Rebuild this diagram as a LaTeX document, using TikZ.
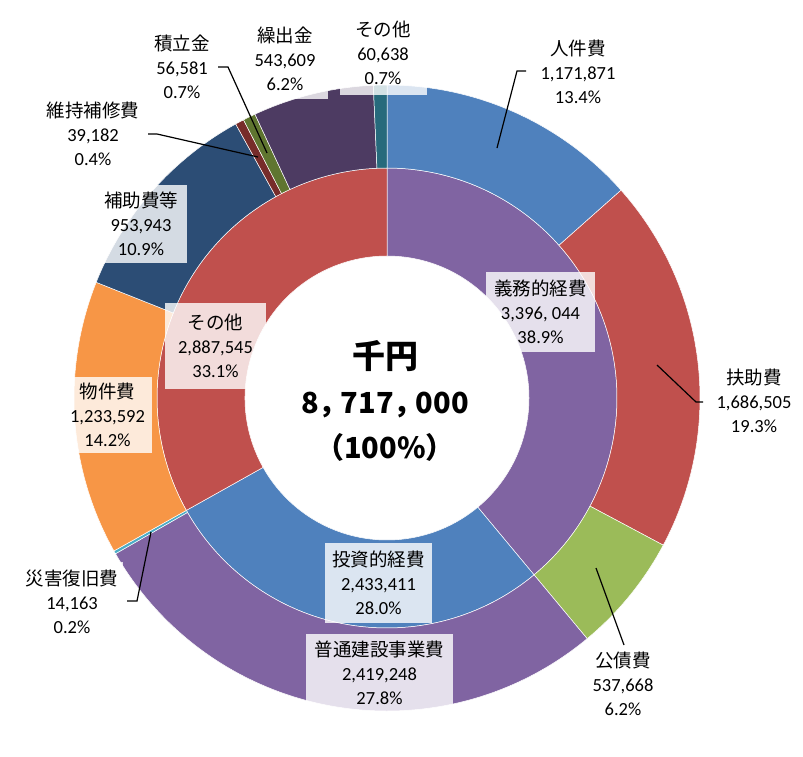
\documentclass[tikz,border=0pt]{standalone}
\usepackage{fontspec}
\setmainfont{Carlito}
\newfontfamily\jp{Noto Sans CJK JP}
\definecolor{cJinken}{HTML}{4F81BD}
\definecolor{cFujo}{HTML}{C0504D}
\definecolor{cKosai}{HTML}{9BBB59}
\definecolor{cFutsu}{HTML}{8064A2}
\definecolor{cSaigai}{HTML}{4BACC6}
\definecolor{cBukken}{HTML}{F79646}
\definecolor{cHojo}{HTML}{2C4D75}
\definecolor{cIji}{HTML}{772C2A}
\definecolor{cTsumi}{HTML}{5F7530}
\definecolor{cKuri}{HTML}{4D3B62}
\definecolor{cOther}{HTML}{276A7C}
\definecolor{cGimu}{HTML}{8064A2}
\definecolor{cToshi}{HTML}{4F81BD}
\definecolor{cInOther}{HTML}{C0504D}
\newcommand\ringseg[5]{%
  \filldraw[fill=#1, segline] (#2:#4pt) arc[start angle=#2, end angle=#3, radius=#4pt]
    -- (#3:#5pt) arc[start angle=#3, end angle=#2, radius=#5pt] -- cycle;}
\begin{document}
\begin{tikzpicture}[x=1pt,y=-1pt,
  lbl/.style={align=center, font=\fontsize{18.5}{24}\selectfont, inner sep=0pt},
  lblbox/.style={lbl, fill=white, fill opacity=0.8, text opacity=1},
  leader/.style={draw=black, line width=1.2pt},
  segline/.style={draw=white, line width=0.5pt}]
\fill[white] (0,0) rectangle (803,756);
\useasboundingbox (0,0) rectangle (803,756);

\begin{scope}[shift={(387,398)}]
% inner ring
\ringseg{cGimu}{90}{-50.252}{142}{230}
\ringseg{cToshi}{-50.252}{-150.749}{142}{230}
\ringseg{cInOther}{-150.749}{-270}{142}{230}
% outer ring
\ringseg{cJinken}{90}{41.603}{230}{313}
\ringseg{cFujo}{41.603}{-28.047}{230}{313}
\ringseg{cKosai}{-28.047}{-50.252}{230}{313}
\ringseg{cFutsu}{-50.252}{-150.164}{230}{313}
\ringseg{cSaigai}{-150.164}{-150.749}{230}{313}
\ringseg{cBukken}{-150.749}{-201.695}{230}{313}
\ringseg{cHojo}{-201.695}{-241.092}{230}{313}
\ringseg{cIji}{-241.092}{-242.710}{230}{313}
\ringseg{cTsumi}{-242.710}{-245.047}{230}{313}
\ringseg{cKuri}{-245.047}{-267.497}{230}{313}
\ringseg{cOther}{-267.497}{-270}{230}{313}
\end{scope}

% inner labels
\node[lblbox, minimum width=109, minimum height=80] (gimu) at (540.5,312) {{\jp 義務的経費}\\3,396, 044\\38.9\%};
\node[lblbox, minimum width=101, minimum height=86] (inother) at (215.5,346) {{\jp その他}\\2,887,545\\33.1\%};
\node[lblbox, minimum width=107, minimum height=80] (toshi) at (378.5,583) {{\jp 投資的経費}\\2,433,411\\28.0\%};

% outer labels
\node[lbl] (jinken) at (578,72) {{\jp 人件費}\\1,171,871\\13.4\%};
\node[lbl] (fujo) at (754,401) {{\jp 扶助費}\\1,686,505\\19.3\%};
\node[lbl] (kosai) at (623,684) {{\jp 公債費}\\537,668\\6.2\%};
\node[lblbox, minimum width=147, minimum height=78] (futsu) at (379.5,673) {{\jp 普通建設事業費}\\2,419,248\\27.8\%};
\node[lblbox, minimum width=102, minimum height=80] (saigai) at (72,602) {{\jp 災害復旧費}\\14,163\\0.2\%};
\node[lblbox, minimum width=89, minimum height=76] (bukken) at (107.5,415) {{\jp 物件費}\\1,233,592\\14.2\%};
\node[lblbox, minimum width=92, minimum height=78] (hojo) at (141,224) {{\jp 補助費等}\\953,943\\10.9\%};
\node[lbl] (iji) at (93,134) {{\jp 維持補修費}\\39,182\\0.4\%};
\node[lbl] (tsumi) at (182,67) {{\jp 積立金}\\56,581\\0.7\%};
\node[lblbox, minimum width=86, minimum height=80] (kuri) at (285,59) {{\jp 繰出金}\\543,609\\6.2\%};
\node[lblbox, minimum width=87, minimum height=84] (other) at (383,53) {{\jp その他}\\60,638\\0.7\%};

% center total
\node[align=center, font={\jp\bfseries\fontsize{29}{45}\selectfont}, inner sep=0pt] (total) at (385,401) {{\fontsize{33}{45}\selectfont 千円}\\8，\kern-7pt 717，\kern-7pt 000\\（100\%）};

% leader lines
\coordinate (jkA) at (526,71); \coordinate (jkB) at (517,71); \coordinate (jkC) at (497,148);
\coordinate (fjA) at (703,402); \coordinate (fjB) at (696,402); \coordinate (fjC) at (657,365);
\coordinate (ksA) at (624,645); \coordinate (ksC) at (596,568);
\coordinate (sgA) at (127,601); \coordinate (sgB) at (137,601); \coordinate (sgC) at (151,532);
\coordinate (ijA) at (148,134); \coordinate (ijB) at (157,134); \coordinate (ijC) at (258,157);
\coordinate (tsA) at (218,67); \coordinate (tsB) at (228,67); \coordinate (tsC) at (267,153);
\draw[leader] (jkA) -- (jkB) -- (jkC);
\draw[leader] (fjA) -- (fjB) -- (fjC);
\draw[leader] (ksA) -- (ksC);
\draw[leader] (sgA) -- (sgB) -- (sgC);
\draw[leader] (ijA) -- (ijB) -- (ijC);
\draw[leader] (tsA) -- (tsB) -- (tsC);
\end{tikzpicture}
\end{document}
